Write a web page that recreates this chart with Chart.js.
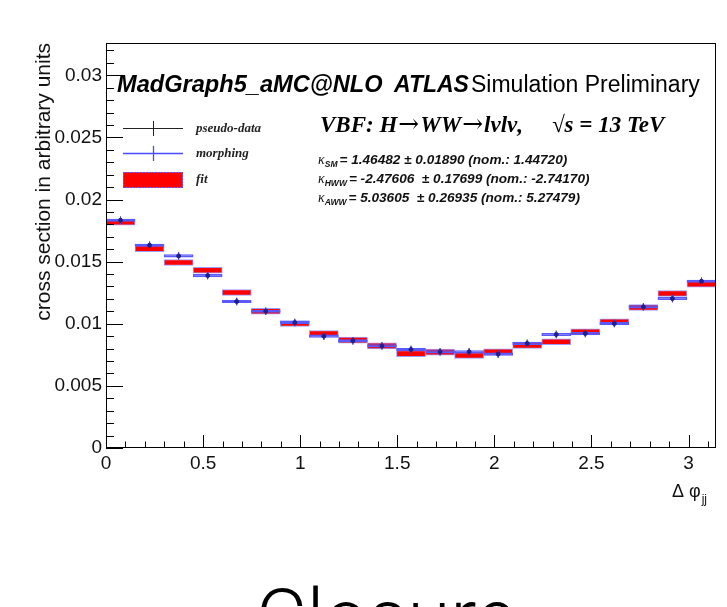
<!DOCTYPE html>
<html>
<head>
<meta charset="utf-8">
<style>
  html, body { margin: 0; padding: 0; background: #fff; overflow: hidden; }
  #wrap { position: relative; width: 727px; height: 607px; }
</style>
</head>
<body>
<div id="wrap"><canvas id="closure" width="727" height="607"></canvas></div>
<script src="https://cdn.jsdelivr.net/npm/chart.js"></script>
<script>
  // Delta phi_jj: 21 equal bins over [0, pi]
  const nBins = 21;
  const phiMax = Math.PI;

  // fitted cross section per bin (red band) and its half height
  const fitValues = [
    0.01817, 0.01605, 0.01493, 0.01431, 0.01252, 0.01101, 0.01002,
    0.00922, 0.00868, 0.00822, 0.00760, 0.00772, 0.00745, 0.00774,
    0.00826, 0.00855, 0.00935, 0.01015, 0.01131, 0.01244, 0.01318
  ];
  const fitErr = 0.00024;

  // morphing prediction per bin (blue)
  const morphValues = [
    0.01833, 0.01632, 0.01546, 0.01388, 0.01179, 0.01101, 0.01010,
    0.00900, 0.00863, 0.00822, 0.00793, 0.00774, 0.00774, 0.00756,
    0.00842, 0.00914, 0.00922, 0.01002, 0.01136, 0.01203, 0.01342
  ];
  const morphBand = 0.0001;
  const morphErr = 0.0003;

  // pseudo-data per bin (black)
  const pseudoData = [
    0.01833, 0.01632, 0.01546, 0.01388, 0.01179, 0.01101, 0.01010,
    0.00900, 0.00863, 0.00822, 0.00793, 0.00774, 0.00774, 0.00756,
    0.00842, 0.00914, 0.00922, 0.01002, 0.01136, 0.01203, 0.01342
  ];
  const pseudoErr = 0.0003;

  const xTicks = [0, 0.5, 1, 1.5, 2, 2.5, 3];
  const xTickLabels = ["0", "0.5", "1", "1.5", "2", "2.5", "3"];
  const yTicks = [0, 0.005, 0.01, 0.015, 0.02, 0.025, 0.03];
  const yTickLabels = ["0", "0.005", "0.01", "0.015", "0.02", "0.025", "0.03"];
  const yMax = 0.0326;

  const binWidth = phiMax / nBins;
  const centers = fitValues.map((_, i) => (i + 0.5) * binWidth);

  // vertical error segments as one broken line
  function errorSegments(vals, err) {
    const pts = [];
    vals.forEach((v, i) => {
      pts.push({ x: centers[i], y: v - err }, { x: centers[i], y: v + err }, { x: centers[i], y: null });
    });
    return pts;
  }

  const SANS = "'Liberation Sans', Arial, Helvetica, sans-serif";
  const SERIF = "'Liberation Serif', 'Times New Roman', serif";

  function text(ctx, str, x, y, font, color, align) {
    ctx.font = font;
    ctx.fillStyle = color || "#000";
    ctx.textAlign = align || "left";
    ctx.textBaseline = "alphabetic";
    ctx.fillText(str, x, y);
    return ctx.measureText(str).width;
  }

  // draw pieces one after another on one baseline
  function run(ctx, x, y, pieces) {
    pieces.forEach(([str, font, gap]) => { x += text(ctx, str, x, y, font, "#000") + (gap || 0); });
    return x;
  }

  // kappa with a subscript, then the rest of the line
  function kappaLine(ctx, x, y, sub, rest) {
    let w = text(ctx, "\u03BA", x, y, "italic 14px " + SERIF, "#111");
    w += text(ctx, sub, x + w, y + 3, "bold italic 8.5px " + SANS, "#111");
    text(ctx, rest, x + w + 2, y, "bold italic 13.6px " + SANS, "#111");
  }

  const rootStyle = {
    id: "rootStyle",
    afterDraw(chart) {
      const { ctx, chartArea: a, scales: { x, y } } = chart;
      ctx.save();
      ctx.strokeStyle = "#000";
      ctx.lineWidth = 1;
      // frame
      ctx.strokeRect(a.left + 0.5, a.top + 0.5, a.right - a.left - 1, a.bottom - a.top - 1);
      // inward ticks
      ctx.beginPath();
      for (let k = 0; k * 0.001 <= yMax + 1e-9; k++) {
        const py = Math.round(y.getPixelForValue(k * 0.001)) + 0.5;
        const len = k % 5 === 0 ? 17 : 8;
        ctx.moveTo(a.left, py);
        ctx.lineTo(a.left + len, py);
      }
      for (let k = 0; k * 0.1 <= phiMax; k++) {
        const px = Math.round(x.getPixelForValue(k * 0.1)) + 0.5;
        const len = k % 5 === 0 ? 13 : 6.5;
        ctx.moveTo(px, a.bottom);
        ctx.lineTo(px, a.bottom - len);
      }
      ctx.stroke();

      // axis titles
      ctx.save();
      ctx.translate(43, a.top);
      ctx.rotate(-Math.PI / 2);
      text(ctx, "cross section in arbitrary units", 0, 7, "21px " + SANS, "#111", "right");
      ctx.restore();
      let w = text(ctx, "\u0394 \u03C6", 672, 497, "18px " + SANS, "#111");
      text(ctx, "jj", 672 + w + 1, 503, "12px " + SANS, "#111");

      // header
      text(ctx, "MadGraph5_aMC@NLO", 117, 92, "bold italic 23.6px " + SANS, "#000");
      text(ctx, "ATLAS", 394, 92, "bold italic 23px " + SANS, "#000");
      text(ctx, "Simulation Preliminary", 471, 92, "23px " + SANS, "#000");

      const vbf = "bold italic 23px " + SERIF;
      const arrow = "25px 'DejaVu Serif', serif";
      run(ctx, 320, 132, [
        ["VBF: H", vbf, 1], ["\u2192", arrow, 1], ["WW", vbf, 1], ["\u2192", arrow, 1], ["l\u03BDl\u03BD,", vbf]
      ]);
      text(ctx, "\u221As = 13 TeV", 552, 132, vbf, "#000");

      kappaLine(ctx, 318, 164, "SM", "= 1.46482 \u00B1 0.01890 (nom.: 1.44720)");
      kappaLine(ctx, 318, 183, "HWW", "= -2.47606  \u00B1 0.17699 (nom.: -2.74170)");
      kappaLine(ctx, 318, 202, "AWW", "= 5.03605  \u00B1 0.26935 (nom.: 5.27479)");

      // legend
      ctx.lineWidth = 1;
      ctx.strokeStyle = "#222";
      ctx.beginPath();
      ctx.moveTo(123, 128.5); ctx.lineTo(183, 128.5);
      ctx.moveTo(153.5, 121); ctx.lineTo(153.5, 136);
      ctx.stroke();
      ctx.strokeStyle = "#4a4aff";
      ctx.lineWidth = 1.3;
      ctx.beginPath();
      ctx.moveTo(123, 153.5); ctx.lineTo(183, 153.5);
      ctx.moveTo(153.5, 146); ctx.lineTo(153.5, 161);
      ctx.stroke();
      ctx.lineWidth = 1;
      ctx.fillStyle = "#ff0000";
      ctx.fillRect(123, 172, 60, 16);
      ctx.strokeStyle = "#6a6aff";
      ctx.setLineDash([2, 1]);
      ctx.strokeRect(123.5, 172.5, 59, 15);
      ctx.setLineDash([]);
      text(ctx, "pseudo-data", 196, 132, "bold italic 13px " + SERIF, "#222");
      text(ctx, "morphing", 196, 157, "bold italic 13px " + SERIF, "#222");
      text(ctx, "fit", 196, 183, "bold italic 13px " + SERIF, "#222");

      // slide caption under the plot
      text(ctx, "Closure", 256, 644, "300 78px Roboto, 'Open Sans', sans-serif", "#000");
      ctx.restore();
    }
  };

  new Chart(document.getElementById("closure"), {
    type: "bar",
    data: {
      datasets: [
        {
          label: "fit",
          data: fitValues.map((v, i) => ({ x: centers[i], y: [v - fitErr, v + fitErr] })),
          backgroundColor: "#ff0000",
          borderColor: "rgba(90,90,255,0.6)",
          borderWidth: 1,
          borderSkipped: false,
          grouped: false,
          categoryPercentage: 1,
          barPercentage: 1,
          order: 4
        },
        {
          label: "morphing",
          data: morphValues.map((v, i) => ({ x: centers[i], y: [v - morphBand, v + morphBand] })),
          backgroundColor: "rgba(90,90,255,0.06)",
          borderColor: "#5a5aff",
          borderWidth: 1,
          borderSkipped: false,
          grouped: false,
          categoryPercentage: 1,
          barPercentage: 1,
          order: 1
        },
        {
          type: "line",
          label: "pseudo-data errors",
          data: errorSegments(pseudoData, pseudoErr),
          borderColor: "#333",
          borderWidth: 1,
          pointRadius: 0,
          spanGaps: false,
          order: 3
        },
        {
          type: "line",
          label: "morphing errors",
          data: errorSegments(morphValues, morphErr),
          borderColor: "#4444ff",
          borderWidth: 1,
          pointRadius: 0,
          spanGaps: false,
          order: 2
        },
        {
          type: "scatter",
          label: "pseudo-data",
          data: pseudoData.map((v, i) => ({ x: centers[i], y: v })),
          backgroundColor: "#20208a",
          borderColor: "#20208a",
          pointRadius: 2,
          order: 0
        }
      ]
    },
    options: {
      responsive: false,
      animation: false,
      layout: { padding: { top: 43, right: 11, left: 0, bottom: 0 } },
      plugins: { legend: { display: false }, tooltip: { enabled: false } },
      scales: {
        x: {
          type: "linear",
          min: 0,
          max: phiMax,
          offset: false,
          grid: { display: false, drawTicks: false },
          border: { display: false },
          afterBuildTicks: (s) => { s.ticks = xTicks.map((v) => ({ value: v })); },
          afterFit: (s) => { s.height = 607 - 448; },
          ticks: {
            autoSkip: false,
            maxRotation: 0,
            padding: 4,
            color: "#111",
            font: { family: SANS, size: 19 },
            callback: (v, i) => xTickLabels[i]
          }
        },
        y: {
          type: "linear",
          min: 0,
          max: yMax,
          grid: { display: false, drawTicks: false },
          border: { display: false },
          afterBuildTicks: (s) => { s.ticks = yTicks.map((v) => ({ value: v })); },
          afterFit: (s) => { s.width = 106; },
          ticks: {
            autoSkip: false,
            padding: 4,
            color: "#111",
            font: { family: SANS, size: 19 },
            callback: (v, i) => yTickLabels[i]
          }
        }
      }
    },
    plugins: [rootStyle]
  });
</script>
</body>
</html>
